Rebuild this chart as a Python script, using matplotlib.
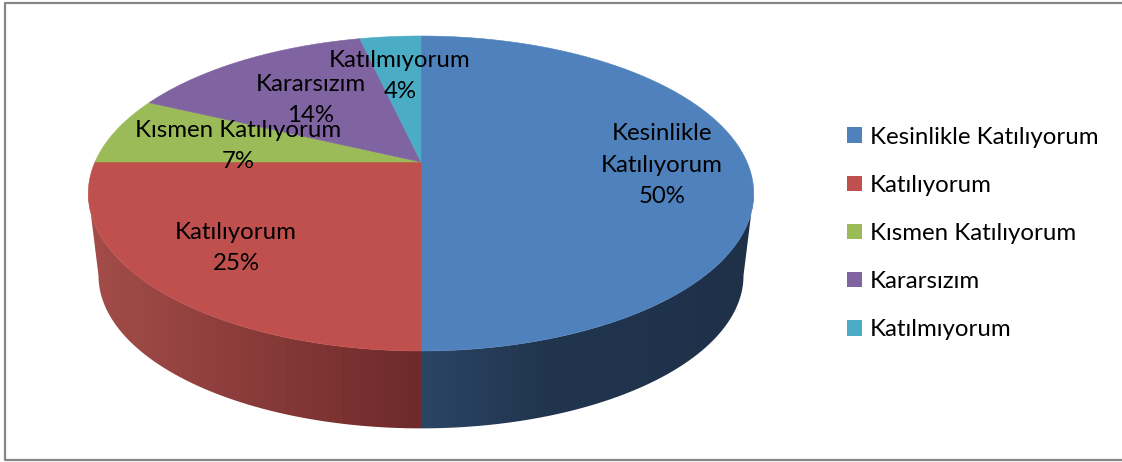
import numpy as np
import matplotlib
matplotlib.use("Agg")
import matplotlib.pyplot as plt
from matplotlib.patches import Patch, Polygon

plt.rcParams['font.family'] = ['Lato', 'DejaVu Sans']

categories = ["Kesinlikle Katılıyorum", "Katılıyorum", "Kısmen Katılıyorum", "Kararsızım", "Katılmıyorum"]
values = [50, 25, 7, 14.4, 3.6]
slice_labels = ["Kesinlikle\nKatılıyorum\n50%", "Katılıyorum\n25%", "Kısmen Katılıyorum\n7%", "Kararsızım\n14%", "Katılmıyorum\n4%"]

colors = ["#4f81bd", "#c0504d", "#9bbb59", "#8064a2", "#4bacc6"]
label_pos = [(662, 165), (236, 248), (238, 146), (311, 100), (400, 76)]

# perspective ellipse, top face and bottom rim of the disc
CX = 421
K = 0.2
TOP = (162, 151.2, 326)
BOT = (245, 146.7, 316)
FS = 17.3


def rim(theta, e):
    # theta clockwise from 12 o'clock
    u, v = np.sin(theta), np.cos(theta)
    w = 1 + K * v
    return CX + e[2] * u / w, e[0] - e[1] * v / w


fig = plt.figure(figsize=(11.22, 4.62), dpi=100)
ax = fig.add_axes([0, 0, 1, 1])
ax.set_xlim(0, 1122)
ax.set_ylim(462, 0)
ax.axis("off")

# frame is open on the right
ax.plot([1122, 5, 5, 1122], [3, 3, 460, 460], color="#868686", lw=1.6)

# side wall, horizontal gradient clipped to the outline of the disc
front = np.radians(np.linspace(101.5, 258.5, 120))
tx, ty = rim(front, TOP)
bx, by = rim(np.radians(np.linspace(258.5, 101.5, 120)), BOT)
wall = Polygon(np.column_stack([np.r_[tx, bx], np.r_[ty, by]]), fc="none", ec="none")
ax.add_patch(wall)

xs = np.arange(80, 760, 8) + 4
grad = np.zeros((1, len(xs), 3))
left = xs < CX
for ch, (red_stops, blue_stops) in enumerate([(([95, 421], [0xa3, 0x6e]), ([421, 540, 753], [0x2b, 0x21, 0x1f])),
                                              (([95, 421], [0x4c, 0x2a]), ([421, 540, 753], [0x46, 0x35, 0x31])),
                                              (([95, 421], [0x49, 0x2a]), ([421, 540, 753], [0x66, 0x4f, 0x49]))]):
    grad[0, left, ch] = np.interp(xs[left], *red_stops) / 255
    grad[0, ~left, ch] = np.interp(xs[~left], *blue_stops) / 255
# exact step at the red/blue boundary: two images meeting at CX
im = ax.imshow(grad[:, left], extent=(80, CX, 440, 150), aspect="auto", interpolation="nearest", zorder=2)
im.set_clip_path(wall)
im2 = ax.imshow(grad[:, ~left], extent=(CX, 760, 440, 150), aspect="auto", interpolation="nearest", zorder=2)
im2.set_clip_path(wall)
ax.set_xlim(0, 1122)
ax.set_ylim(462, 0)

# top face
edges = np.cumsum([0] + values) / sum(values) * 2 * np.pi
for i, val in enumerate(values):
    t = np.linspace(edges[i], edges[i + 1], 80)
    px, py = rim(t, TOP)
    pts = [(CX, TOP[0])] + list(zip(px, py))
    ax.add_patch(Polygon(pts, fc=colors[i], ec=colors[i], lw=0.4, zorder=3))

for lab, (x, y) in zip(slice_labels, label_pos):
    ax.text(x, y, lab, ha="center", va="center", fontsize=FS, color="black", linespacing=1.6, zorder=5)

handles = [Patch(fc=c, ec=c, lw=0) for c in colors]
ax.legend(handles, categories, loc="center left", bbox_to_anchor=(847 / 1122, 1 - 233.5 / 462),
          frameon=False, fontsize=FS, handlelength=0.62, handleheight=0.62, handletextpad=0.33,
          labelspacing=1.13, borderpad=0, borderaxespad=0)

fig.savefig("out.png", dpi=100)
